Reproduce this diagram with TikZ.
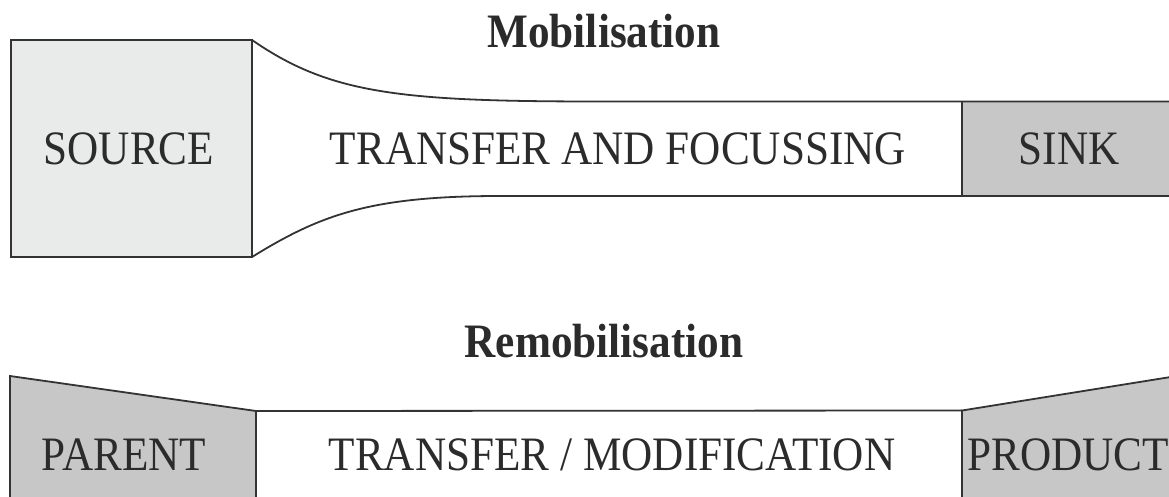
\documentclass[tikz,border=0pt]{standalone}
\usepackage{fontspec}
\setmainfont[FakeStretch=0.9]{Liberation Serif}
\definecolor{linec}{HTML}{333333}
\definecolor{lightfill}{HTML}{E9EAEA}
\definecolor{darkfill}{HTML}{C6C7C6}
\definecolor{txtc}{HTML}{2B2B2B}
\begin{document}
\begin{tikzpicture}[x=1pt,y=-1pt,
  outline/.style={draw=linec, line width=1.8pt, line join=miter},
  lbl/.style={text=txtc, font=\fontsize{48}{58}\selectfont, anchor=base, inner sep=0pt},
  ttl/.style={text=txtc, font=\fontsize{48}{58}\selectfont\bfseries, anchor=base, inner sep=0pt}]
\useasboundingbox (0,0) rectangle (1169,497);
\begin{scope}
\clip (0,0) rectangle (1169,497);
% ---------- Mobilisation ----------
\path[fill=lightfill] (11,40) rectangle (252,257);
\path[fill=darkfill] (962,101.5) rectangle (1180,196);
\draw[outline] (11,40) rectangle (252,257);
\draw[outline] (252,40) .. controls (330,94) and (400,101.5) .. (600,101.5) -- (1180,101.5);
\draw[outline] (252,257) .. controls (320,215) and (370,196) .. (500,196) -- (1180,196);
\draw[outline] (962,101.5) -- (962,196);
% ---------- Remobilisation ----------
\path[fill=darkfill] (10,376) -- (256,411) -- (256,510) -- (10,510) -- cycle;
\path[fill=darkfill] (962,410.5) -- (1180,375.5) -- (1180,510) -- (962,510) -- cycle;
\draw[outline] (10,510) -- (10,376) -- (256,411) -- (256,510);
\draw[outline] (256,411) -- (962,410.5);
\draw[outline] (962,510) -- (962,410.5) -- (1180,375.5);
\end{scope}
% ---------- texts ----------
\node[ttl] (mob) at (604,48) {Mobilisation};
\node[lbl] (source) at (129,165) {SOURCE};
\node[lbl] (tf) at (618,165) {TRANSFER AND FOCUSSING};
\node[lbl] (sink) at (1069,165) {SINK};
\node[ttl] (remob) at (604,357) {Remobilisation};
\node[lbl] (parent) at (124,470) {PARENT};
\node[lbl] (tm) at (612,470) {TRANSFER / MODIFICATION};
\node[lbl, anchor=base west] (product) at (967,470) {PRODUCT};
\end{tikzpicture}
\end{document}
